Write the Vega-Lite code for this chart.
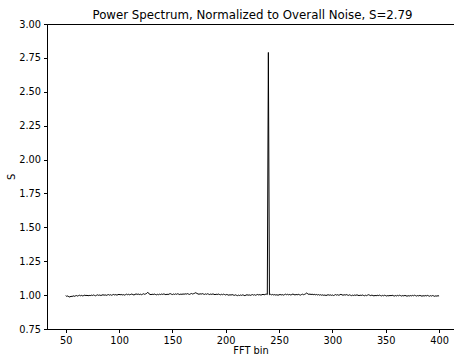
{
"$schema": "https://vega.github.io/schema/vega-lite/v6.json",
"width": 407, "height": 305,
"autosize": {"type": "none"},
"padding": {"left": 47, "top": 24, "right": 0, "bottom": 27},
"background": "white",
"title": {"text": "Power Spectrum, Normalized to Overall Noise, S=2.79", "font": "DejaVu Sans", "fontSize": 11.8, "fontWeight": "normal", "color": "black", "frame": "group", "offset": -3, "dx": 2},
"config": {
 "view": {"stroke": "black", "strokeWidth": 1},
 "axis": {"grid": false, "domainColor": "black", "tickColor": "black", "tickSize": 3.5, "labelColor": "black", "titleColor": "black", "labelFont": "DejaVu Sans", "titleFont": "DejaVu Sans", "labelFontSize": 9.8, "titleFontSize": 9.8, "titleFontWeight": "normal", "labelPadding": 3}
},
"data": {"values": [
{"b":50,"s":0.996},{"b":51,"s":0.991},{"b":52,"s":0.994},{"b":53,"s":0.988},{"b":54,"s":0.986},{"b":55,"s":0.992},{"b":56,"s":0.989},{"b":57,"s":0.995},{"b":58,"s":0.991},{"b":59,"s":0.994},
{"b":60,"s":0.997},{"b":61,"s":0.993},{"b":62,"s":0.996},{"b":63,"s":0.999},{"b":64,"s":0.995},{"b":65,"s":0.998},{"b":66,"s":0.994},{"b":67,"s":0.997},{"b":68,"s":1.000},{"b":69,"s":0.996},
{"b":70,"s":0.999},{"b":71,"s":0.995},{"b":72,"s":0.998},{"b":73,"s":0.996},{"b":74,"s":1.000},{"b":75,"s":0.997},{"b":76,"s":1.001},{"b":77,"s":0.998},{"b":78,"s":0.995},{"b":79,"s":0.999},
{"b":80,"s":1.002},{"b":81,"s":0.998},{"b":82,"s":1.001},{"b":83,"s":0.997},{"b":84,"s":1.000},{"b":85,"s":1.003},{"b":86,"s":0.999},{"b":87,"s":1.002},{"b":88,"s":0.998},{"b":89,"s":1.001},
{"b":90,"s":1.004},{"b":91,"s":1.000},{"b":92,"s":1.003},{"b":93,"s":0.999},{"b":94,"s":1.002},{"b":95,"s":1.005},{"b":96,"s":1.001},{"b":97,"s":1.004},{"b":98,"s":1.000},{"b":99,"s":1.003},
{"b":100,"s":1.006},{"b":101,"s":1.002},{"b":102,"s":1.005},{"b":103,"s":1.001},{"b":104,"s":1.004},{"b":105,"s":1.000},{"b":106,"s":1.003},{"b":107,"s":1.007},{"b":108,"s":1.003},{"b":109,"s":1.006},
{"b":110,"s":1.002},{"b":111,"s":1.005},{"b":112,"s":1.008},{"b":113,"s":1.004},{"b":114,"s":1.001},{"b":115,"s":1.005},{"b":116,"s":1.009},{"b":117,"s":1.005},{"b":118,"s":1.008},{"b":119,"s":1.004},
{"b":120,"s":1.007},{"b":121,"s":1.003},{"b":122,"s":1.006},{"b":123,"s":1.010},{"b":124,"s":1.006},{"b":125,"s":1.009},{"b":126,"s":1.013},{"b":127,"s":1.021},{"b":128,"s":1.010},{"b":129,"s":1.006},
{"b":130,"s":1.003},{"b":131,"s":1.007},{"b":132,"s":1.004},{"b":133,"s":1.008},{"b":134,"s":1.005},{"b":135,"s":1.002},{"b":136,"s":1.006},{"b":137,"s":1.003},{"b":138,"s":1.007},{"b":139,"s":1.004},
{"b":140,"s":1.008},{"b":141,"s":1.005},{"b":142,"s":1.009},{"b":143,"s":1.006},{"b":144,"s":1.003},{"b":145,"s":1.007},{"b":146,"s":1.004},{"b":147,"s":1.008},{"b":148,"s":1.011},{"b":149,"s":1.007},
{"b":150,"s":1.004},{"b":151,"s":1.008},{"b":152,"s":1.005},{"b":153,"s":1.009},{"b":154,"s":1.006},{"b":155,"s":1.010},{"b":156,"s":1.007},{"b":157,"s":1.004},{"b":158,"s":1.008},{"b":159,"s":1.005},
{"b":160,"s":1.009},{"b":161,"s":1.006},{"b":162,"s":1.010},{"b":163,"s":1.007},{"b":164,"s":1.011},{"b":165,"s":1.008},{"b":166,"s":1.005},{"b":167,"s":1.009},{"b":168,"s":1.012},{"b":169,"s":1.008},
{"b":170,"s":1.011},{"b":171,"s":1.014},{"b":172,"s":1.018},{"b":173,"s":1.012},{"b":174,"s":1.009},{"b":175,"s":1.006},{"b":176,"s":1.010},{"b":177,"s":1.007},{"b":178,"s":1.011},{"b":179,"s":1.008},
{"b":180,"s":1.005},{"b":181,"s":1.009},{"b":182,"s":1.006},{"b":183,"s":1.010},{"b":184,"s":1.007},{"b":185,"s":1.004},{"b":186,"s":1.008},{"b":187,"s":1.005},{"b":188,"s":1.009},{"b":189,"s":1.006},
{"b":190,"s":1.003},{"b":191,"s":1.007},{"b":192,"s":1.004},{"b":193,"s":1.008},{"b":194,"s":1.005},{"b":195,"s":1.002},{"b":196,"s":1.006},{"b":197,"s":1.003},{"b":198,"s":1.007},{"b":199,"s":1.004},
{"b":200,"s":1.001},{"b":201,"s":1.005},{"b":202,"s":1.002},{"b":203,"s":0.999},{"b":204,"s":1.003},{"b":205,"s":1.000},{"b":206,"s":1.004},{"b":207,"s":1.001},{"b":208,"s":0.998},{"b":209,"s":1.002},
{"b":210,"s":0.999},{"b":211,"s":0.996},{"b":212,"s":1.000},{"b":213,"s":0.997},{"b":214,"s":1.001},{"b":215,"s":0.998},{"b":216,"s":1.002},{"b":217,"s":0.999},{"b":218,"s":0.996},{"b":219,"s":1.000},
{"b":220,"s":1.003},{"b":221,"s":0.999},{"b":222,"s":1.002},{"b":223,"s":0.998},{"b":224,"s":1.001},{"b":225,"s":1.004},{"b":226,"s":1.000},{"b":227,"s":1.003},{"b":228,"s":0.999},{"b":229,"s":1.002},
{"b":230,"s":1.005},{"b":231,"s":1.001},{"b":232,"s":1.004},{"b":233,"s":1.000},{"b":234,"s":1.003},{"b":235,"s":1.006},{"b":236,"s":1.002},{"b":237,"s":1.005},{"b":238,"s":1.008},{"b":239,"s":1.004},
{"b":240,"s":2.790},{"b":241,"s":1.003},{"b":242,"s":1.006},{"b":243,"s":1.002},{"b":244,"s":1.005},{"b":245,"s":1.001},{"b":246,"s":1.004},{"b":247,"s":1.000},{"b":248,"s":1.003},{"b":249,"s":0.999},
{"b":250,"s":1.002},{"b":251,"s":1.005},{"b":252,"s":1.001},{"b":253,"s":1.004},{"b":254,"s":1.000},{"b":255,"s":1.003},{"b":256,"s":1.007},{"b":257,"s":1.003},{"b":258,"s":1.006},{"b":259,"s":1.002},
{"b":260,"s":1.005},{"b":261,"s":1.001},{"b":262,"s":1.004},{"b":263,"s":1.008},{"b":264,"s":1.004},{"b":265,"s":1.001},{"b":266,"s":1.005},{"b":267,"s":1.002},{"b":268,"s":1.006},{"b":269,"s":1.003},
{"b":270,"s":1.000},{"b":271,"s":1.004},{"b":272,"s":1.007},{"b":273,"s":1.003},{"b":274,"s":1.006},{"b":275,"s":1.010},{"b":276,"s":1.016},{"b":277,"s":1.009},{"b":278,"s":1.005},{"b":279,"s":1.008},
{"b":280,"s":1.004},{"b":281,"s":1.007},{"b":282,"s":1.003},{"b":283,"s":1.006},{"b":284,"s":1.002},{"b":285,"s":1.005},{"b":286,"s":1.001},{"b":287,"s":1.004},{"b":288,"s":1.000},{"b":289,"s":1.003},
{"b":290,"s":0.999},{"b":291,"s":1.002},{"b":292,"s":0.998},{"b":293,"s":1.001},{"b":294,"s":0.997},{"b":295,"s":1.000},{"b":296,"s":1.003},{"b":297,"s":0.999},{"b":298,"s":1.002},{"b":299,"s":0.998},
{"b":300,"s":1.001},{"b":301,"s":0.997},{"b":302,"s":1.000},{"b":303,"s":1.004},{"b":304,"s":1.000},{"b":305,"s":1.003},{"b":306,"s":0.999},{"b":307,"s":1.002},{"b":308,"s":1.006},{"b":309,"s":1.002},
{"b":310,"s":0.999},{"b":311,"s":1.003},{"b":312,"s":1.000},{"b":313,"s":1.004},{"b":314,"s":1.001},{"b":315,"s":0.998},{"b":316,"s":1.002},{"b":317,"s":0.999},{"b":318,"s":0.996},{"b":319,"s":1.000},
{"b":320,"s":0.997},{"b":321,"s":1.001},{"b":322,"s":0.998},{"b":323,"s":1.002},{"b":324,"s":0.999},{"b":325,"s":0.996},{"b":326,"s":1.000},{"b":327,"s":0.997},{"b":328,"s":1.001},{"b":329,"s":0.998},
{"b":330,"s":0.995},{"b":331,"s":0.999},{"b":332,"s":0.996},{"b":333,"s":1.000},{"b":334,"s":1.003},{"b":335,"s":0.999},{"b":336,"s":0.996},{"b":337,"s":1.000},{"b":338,"s":0.997},{"b":339,"s":0.994},
{"b":340,"s":0.998},{"b":341,"s":0.995},{"b":342,"s":0.999},{"b":343,"s":0.996},{"b":344,"s":1.000},{"b":345,"s":0.997},{"b":346,"s":0.994},{"b":347,"s":0.998},{"b":348,"s":0.995},{"b":349,"s":0.999},
{"b":350,"s":0.996},{"b":351,"s":0.993},{"b":352,"s":0.997},{"b":353,"s":0.994},{"b":354,"s":0.998},{"b":355,"s":0.995},{"b":356,"s":0.999},{"b":357,"s":0.996},{"b":358,"s":0.993},{"b":359,"s":0.997},
{"b":360,"s":0.994},{"b":361,"s":0.998},{"b":362,"s":0.995},{"b":363,"s":0.999},{"b":364,"s":0.996},{"b":365,"s":0.993},{"b":366,"s":0.997},{"b":367,"s":0.994},{"b":368,"s":0.998},{"b":369,"s":0.995},
{"b":370,"s":0.992},{"b":371,"s":0.996},{"b":372,"s":0.993},{"b":373,"s":0.997},{"b":374,"s":0.994},{"b":375,"s":0.998},{"b":376,"s":0.995},{"b":377,"s":0.999},{"b":378,"s":0.996},{"b":379,"s":0.993},
{"b":380,"s":0.997},{"b":381,"s":0.994},{"b":382,"s":0.998},{"b":383,"s":0.995},{"b":384,"s":0.992},{"b":385,"s":0.996},{"b":386,"s":0.993},{"b":387,"s":0.997},{"b":388,"s":0.994},{"b":389,"s":0.998},
{"b":390,"s":0.995},{"b":391,"s":0.992},{"b":392,"s":0.996},{"b":393,"s":0.993},{"b":394,"s":0.997},{"b":395,"s":0.994},{"b":396,"s":0.991},{"b":397,"s":0.995},{"b":398,"s":0.992},{"b":399,"s":0.996},
{"b":400,"s":0.993}
]},
"mark": {"type": "line", "color": "black", "strokeWidth": 1, "clip": true},
"encoding": {
 "x": {"field": "b", "type": "quantitative", "scale": {"domain": [32.5, 414], "nice": false, "zero": false}, "axis": {"values": [50,100,150,200,250,300,350,400], "title": "FFT bin", "titlePadding": 0}},
 "y": {"field": "s", "type": "quantitative", "scale": {"domain": [0.75, 3.0], "nice": false, "zero": false}, "axis": {"values": [0.75,1.0,1.25,1.5,1.75,2.0,2.25,2.5,2.75,3.0], "format": ".2f", "title": "S", "titlePadding": 2}}
}
}
